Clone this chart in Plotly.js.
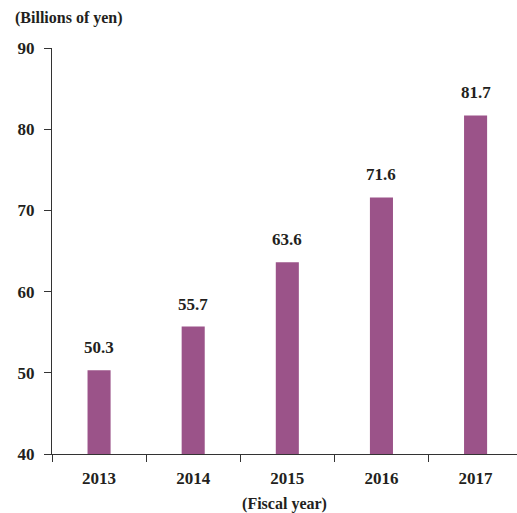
<!DOCTYPE html>
<html><head><meta charset="utf-8">
<script src="https://cdn.plot.ly/plotly-3.0.1.min.js"></script>
<style>html,body{margin:0;padding:0;background:#fff}</style>
</head><body>
<div id="chart" style="width:517px;height:513px"></div>
<script>
const years = ["2013","2014","2015","2016","2017"];
const values = [50.3, 55.7, 63.6, 71.6, 81.7];
const yTicks = [40, 50, 60, 70, 80, 90];

const F = "Liberation Serif, Times New Roman, serif";
const txt = "#231f20";

const trace = {
  type: "bar", x: years, y: values, width: 0.245,
  marker: {color: "#9b5389"}, hoverinfo: "none"
};
const annotations = years.map((yr, i) => ({
  x: i, y: values[i], xref: "x", yref: "y", text: values[i].toFixed(1),
  showarrow: false, yanchor: "bottom", yshift: 11,
  font: {family: F, size: 17, color: txt, weight: "bold"}
}));
annotations.push({
  xref: "paper", yref: "paper", x: -0.083, y: 1.048, xanchor: "left", yanchor: "bottom",
  text: "(Billions of yen)", showarrow: false,
  font: {family: F, size: 16, color: txt, weight: "bold"}
});

const layout = {
  width: 517, height: 513,
  margin: {l: 52, r: 0, t: 48, b: 59},
  paper_bgcolor: "#fff", plot_bgcolor: "#fff",
  showlegend: false,
  xaxis: {
    type: "category", range: [-0.5, 4.44], tickson: "boundaries",
    ticks: "outside", ticklen: 7, tickwidth: 1, tickcolor: "#333",
    showline: true, linecolor: "#333", linewidth: 1, showgrid: false, zeroline: false,
    ticklabelstandoff: 9,
    tickfont: {family: F, size: 17, color: txt, weight: "bold"},
    title: {text: "(Fiscal year)", standoff: 16, font: {family: F, size: 16, color: txt, weight: "bold"}},
    fixedrange: true
  },
  yaxis: {
    range: [40, 90], tickvals: yTicks, ticktext: yTicks.map(String),
    ticks: "outside", ticklen: 7, tickwidth: 1, tickcolor: "#333",
    showline: true, linecolor: "#333", linewidth: 1, showgrid: false, zeroline: false,
    ticklabelstandoff: 6,
    tickfont: {family: F, size: 17, color: txt, weight: "bold"},
    fixedrange: true
  },
  annotations: annotations
};
Plotly.newPlot("chart", [trace], layout, {displayModeBar: false, staticPlot: true});
</script>
</body></html>
